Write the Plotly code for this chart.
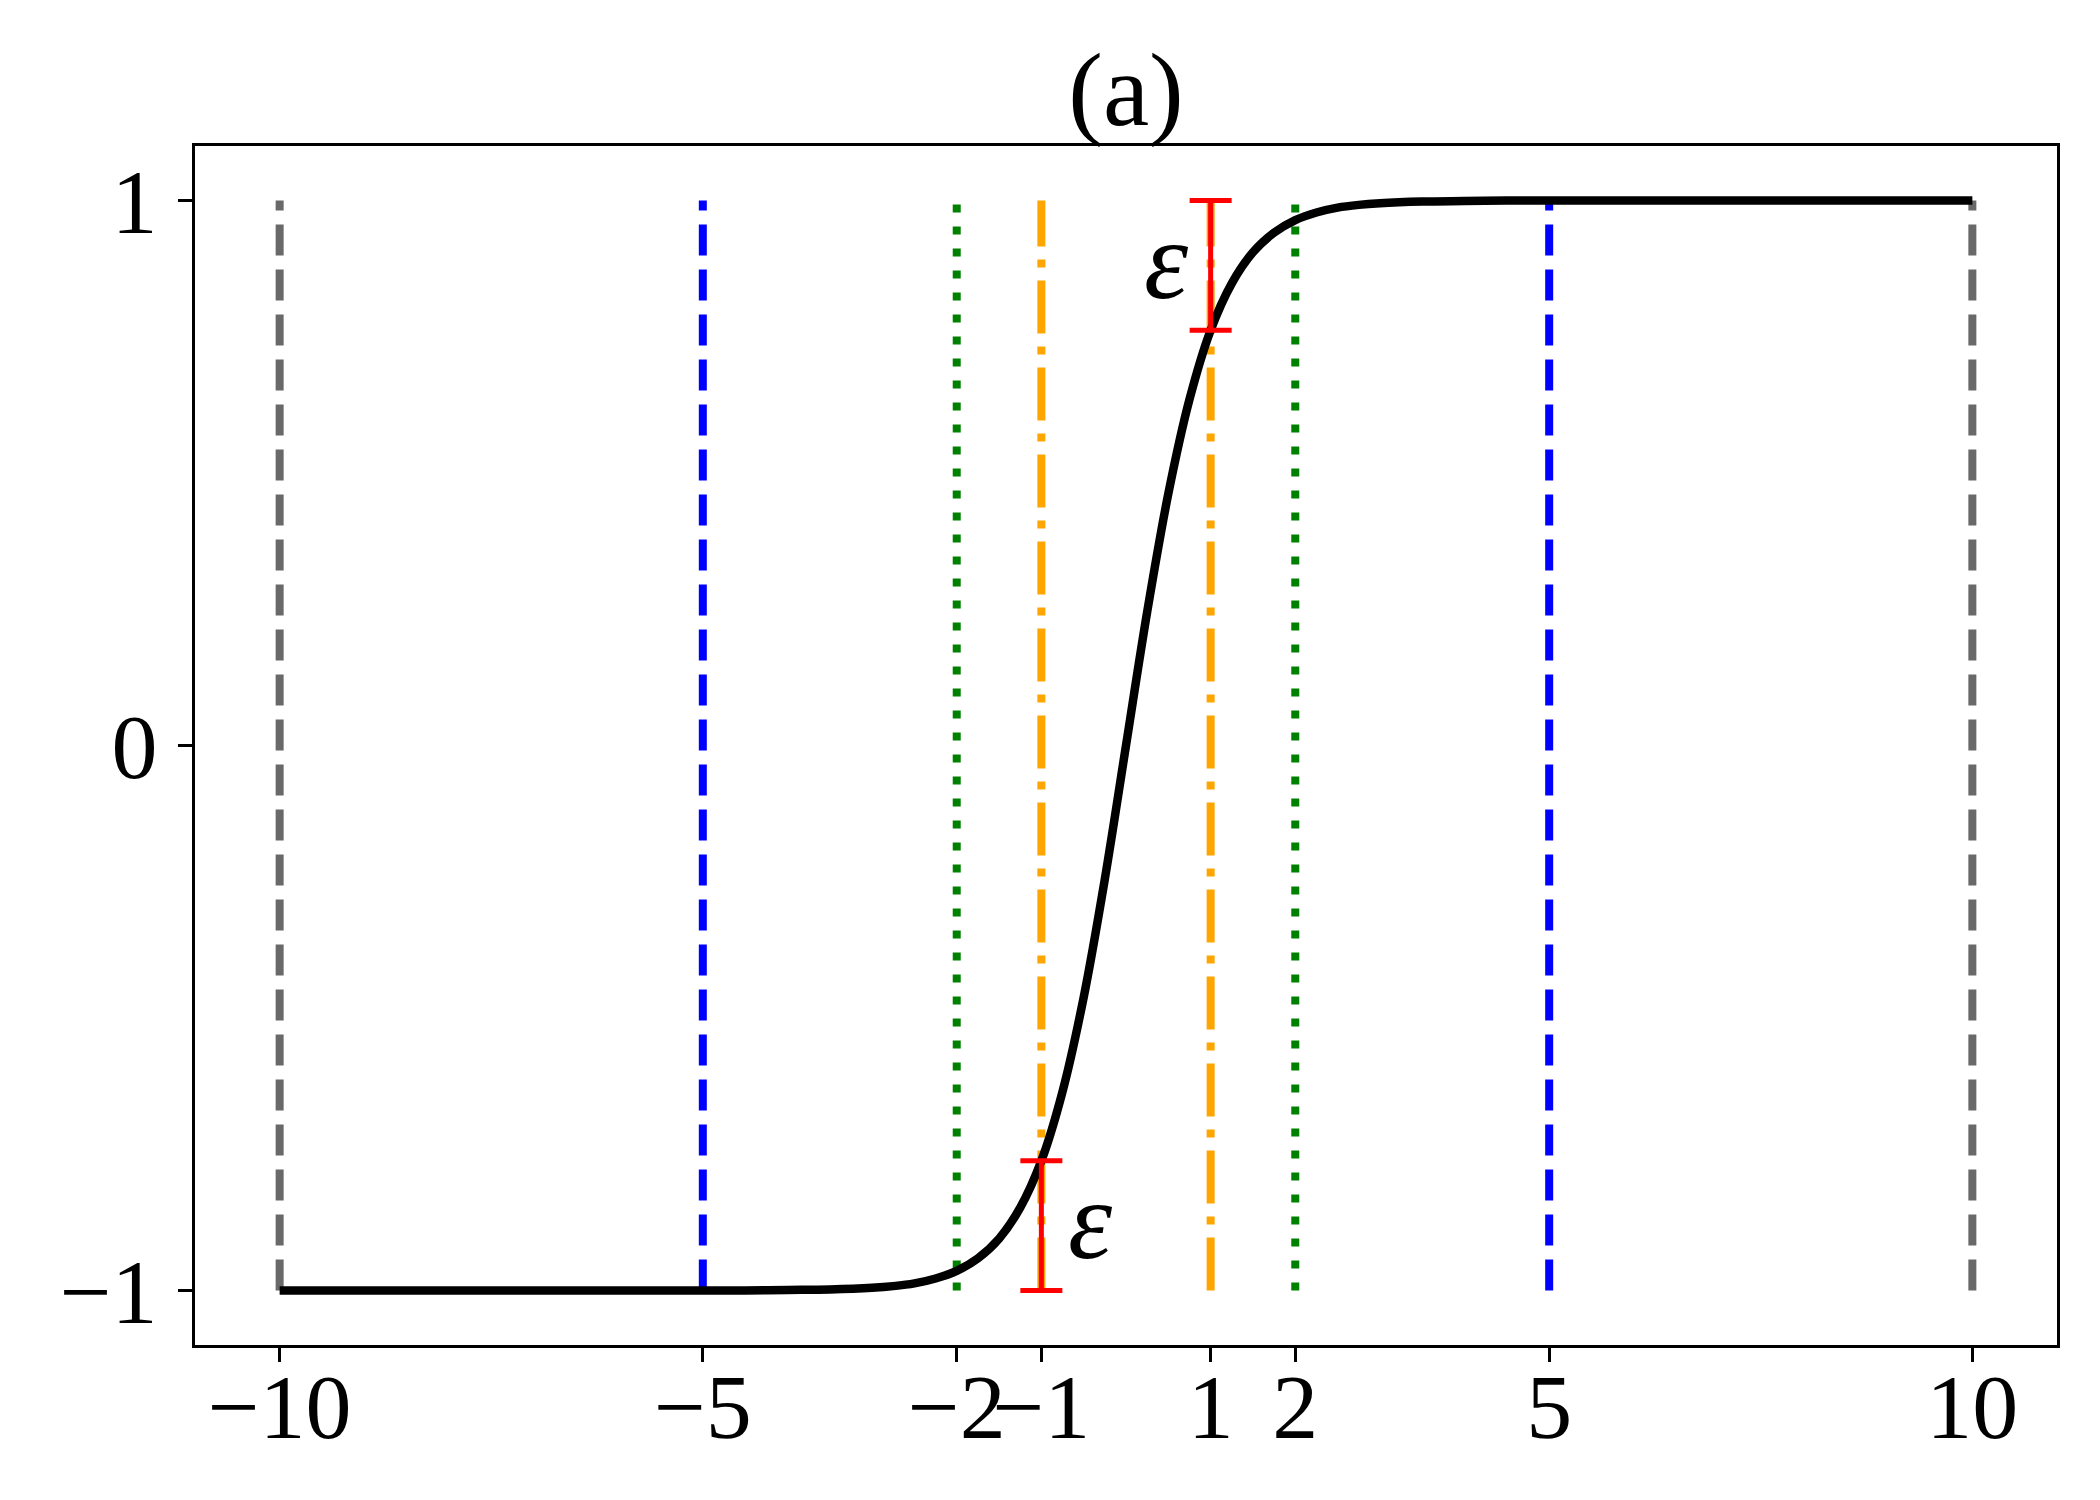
import plotly.graph_objects as go

# Curve values
curve_x = [-10, -6, -5, -4.5, -4, -3.5, -3, -2.75, -2.5, -2.25, -2, -1.75, -1.5, -1.25, -1,
           -0.75, -0.5, -0.25, 0, 0.25, 0.5, 0.75, 1, 1.25, 1.5, 1.75, 2, 2.25, 2.5, 2.75,
           3, 3.5, 4, 4.5, 5, 6, 10]
curve_y = [-1.0, -1.0, -1.0, -1.0, -0.999, -0.998, -0.995, -0.992, -0.987, -0.978, -0.964,
           -0.941, -0.905, -0.848, -0.762, -0.635, -0.462, -0.245, 0.0, 0.245, 0.462, 0.635,
           0.762, 0.848, 0.905, 0.941, 0.964, 0.978, 0.987, 0.992, 0.995, 0.998, 0.999,
           1.0, 1.0, 1.0, 1.0]

# vertical reference lines (x positions), span y from -1 to 1
gray_x = [-10, 10]
blue_x = [-5, 5]
green_x = [-2, 2]
orange_x = [-1, 1]
vline_span = [-1, 1]

# epsilon error bars
err_x = [-1, 1]
err_low = [-1.0, 0.762]
err_len = [0.238, 0.238]

# epsilon labels
eps_x = [-0.42, 0.48]
eps_y = [-0.87, 0.89]

xtick_vals = [-10, -5, -2, -1, 1, 2, 5, 10]
xtick_text = ["\u221210", "\u22125", "\u22122", "\u22121", "1", "2", "5", "10"]
ytick_vals = [-1, 0, 1]
ytick_text = ["\u22121", "0", "1"]

FONT = "Liberation Serif, Times New Roman, serif"

fig = go.Figure()

def add_vlines(xs, color, dash):
    for v in xs:
        fig.add_trace(go.Scatter(x=[v, v], y=vline_span, mode="lines",
                                 line=dict(color=color, width=8, dash=dash),
                                 showlegend=False, hoverinfo="skip"))

add_vlines(gray_x, "#696969", "31px,14px")
add_vlines(blue_x, "#0000ff", "31px,14px")
add_vlines(green_x, "#008000", "8px,14px")
add_vlines(orange_x, "#ffa500", "53px,13px,8px,13px")

fig.add_trace(go.Scatter(x=curve_x, y=curve_y, mode="lines",
                         line=dict(color="black", width=8.5, shape="spline", smoothing=1),
                         showlegend=False, hoverinfo="skip"))

fig.add_trace(go.Scatter(x=err_x, y=err_low, mode="markers",
                         marker=dict(size=1, color="red"),
                         error_y=dict(type="data", symmetric=False, array=err_len,
                                      arrayminus=[0, 0], color="red", thickness=5, width=21),
                         showlegend=False, hoverinfo="skip"))

for ex, ey in zip(eps_x, eps_y):
    fig.add_annotation(x=ex, y=ey, text="<i>\u03b5</i>", showarrow=False,
                       font=dict(family=FONT, size=112, color="black"),
                       xanchor="center", yanchor="middle")

axis_common = dict(showline=True, linecolor="black", linewidth=3, mirror=True,
                   ticks="outside", ticklen=14, tickwidth=3, tickcolor="black",
                   showgrid=False, zeroline=False, tickangle=0,
                   tickfont=dict(family=FONT, size=92, color="black"))

fig.update_xaxes(range=[-11, 11], tickvals=xtick_vals, ticktext=xtick_text,
                 ticklabelstandoff=-34, **axis_common)
fig.update_yaxes(range=[-1.1, 1.1], tickvals=ytick_vals, ticktext=ytick_text,
                 ticklabelstandoff=2, **axis_common)

fig.update_layout(
    width=2100, height=1500,
    margin=dict(l=187, r=51, t=138, b=163),
    paper_bgcolor="white", plot_bgcolor="white",
    title=dict(text="(a)", x=0.5, xanchor="center", xref="paper",
               y=1 - 81 / 1500, yanchor="middle",
               font=dict(family=FONT, size=104, color="black")),
)

fig.write_html("out.html")
